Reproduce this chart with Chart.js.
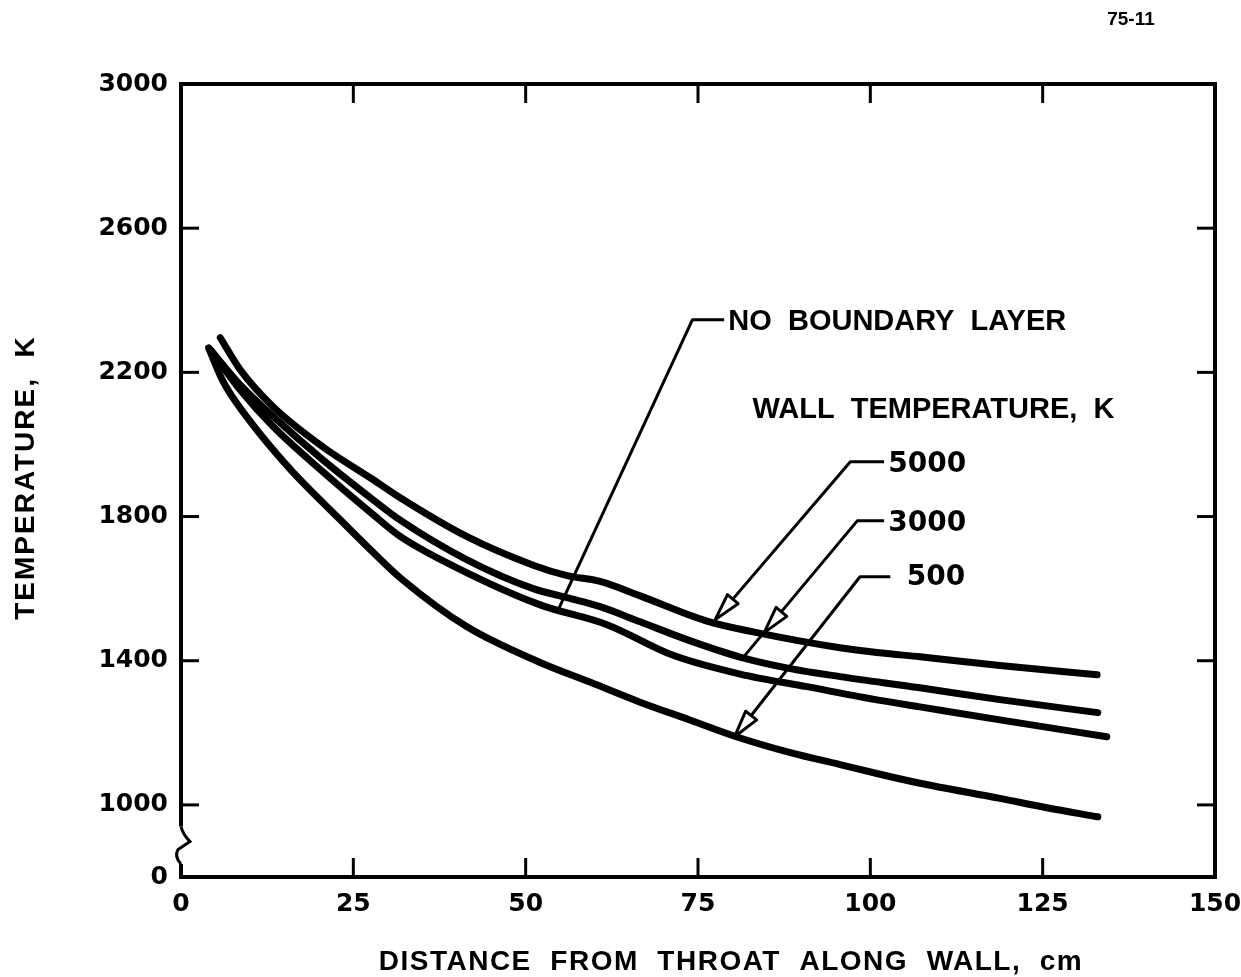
<!DOCTYPE html>
<html>
<head>
<meta charset="utf-8">
<script src="https://cdn.jsdelivr.net/npm/chart.js@4.4.1/dist/chart.umd.min.js"></script>
<style>
  html, body { margin: 0; padding: 0; background: #fff; }
  #wrap { width: 1241px; height: 977px; position: relative; }
</style>
</head>
<body>
<div id="wrap"><canvas id="chart"></canvas></div>
<script>
// ── Values (distance cm, temperature K) ──────────────────────────────
const xTicks = [0, 25, 50, 75, 100, 125, 150];
// 800 sits on the broken axis and is printed as "0"
const yTicks = [800, 1000, 1400, 1800, 2200, 2600, 3000];

// wall temperature 5000 K
const wall5000X = [5.7, 8.6, 13.4, 20.6, 27.9, 31.8, 41.5, 51.1, 56.0, 60.8, 66.6, 76.3, 83.0, 95.6, 101.4, 107.2, 118.8, 132.9];
const wall5000Y = [2296, 2207, 2104, 1993, 1902, 1852, 1744, 1665, 1636, 1620, 1580, 1510, 1480, 1436, 1422, 1411, 1387, 1361];

// wall temperature 3000 K
const wall3000X = [4.3, 8.6, 13.4, 20.6, 27.9, 31.8, 41.5, 51.1, 56.0, 60.8, 66.6, 73.9, 81.1, 88.4, 95.6, 107.2, 118.8, 133.0];
const wall3000Y = [2262, 2165, 2077, 1957, 1846, 1790, 1680, 1600, 1575, 1550, 1508, 1455, 1410, 1378, 1356, 1325, 1292, 1256];

// no boundary layer
const noLayerX = [4.3, 8.6, 13.4, 20.6, 27.9, 31.8, 41.5, 52.1, 61.8, 71.4, 81.1, 90.8, 101.4, 107.2, 118.8, 134.3];
const noLayerY = [2262, 2151, 2049, 1924, 1805, 1745, 1644, 1555, 1500, 1415, 1363, 1328, 1290, 1272, 1236, 1189];

// wall temperature 500 K
const wall500X = [4.0, 6.1, 9.6, 15.9, 23.1, 27.9, 31.8, 41.5, 52.1, 59.4, 66.6, 73.9, 80.1, 88.4, 95.6, 101.4, 107.2, 118.8, 125.6, 133.0];
const wall500Y = [2268, 2175, 2075, 1930, 1791, 1700, 1630, 1494, 1395, 1340, 1285, 1235, 1192, 1145, 1112, 1085, 1060, 1018, 992, 967];

function pts(xs, ys) { return xs.map((x, i) => ({ x: x, y: ys[i] })); }

// ── Labels with leaders, placed in data units ───────────────────────
const notes = [
  { text: 'NO  BOUNDARY  LAYER', at: [79.4, 2340], leader: [[78.8, 2346], [74.2, 2346], [54.6, 1536]] },
  { text: 'WALL  TEMPERATURE,  K', at: [82.9, 2096] },
  { text: '5000', at: [102.6, 1943], digits: true, leader: [[102.0, 1952], [97.1, 1952], [77.5, 1514]], tip: [77.5, 1514] },
  { text: '3000', at: [102.6, 1780], digits: true, leader: [[102.0, 1788], [98.1, 1788], [81.5, 1408]], tip: [84.6, 1478] },
  { text: '500', at: [105.3, 1630], digits: true, leader: [[102.9, 1633], [98.5, 1633], [80.3, 1189]], tip: [80.3, 1189] },
];

const wordFont = 'bold 29px "Liberation Sans", Arial, sans-serif';
const digitFont = 'bold 28px "DejaVu Sans", sans-serif';

const figurePlugin = {
  id: 'figure',
  afterDraw(chart) {
    const ctx = chart.ctx;
    const { left: L, right: R, top: T, bottom: B } = chart.chartArea;
    const px = v => chart.scales.x.getPixelForValue(v);
    const py = v => chart.scales.y.getPixelForValue(v);
    const line = (x1, y1, x2, y2) => { ctx.beginPath(); ctx.moveTo(x1, y1); ctx.lineTo(x2, y2); ctx.stroke(); };

    ctx.save();
    ctx.strokeStyle = '#000';
    ctx.fillStyle = '#000';

    // frame, left side broken between 1000 and 0
    const a = py(940), b = py(836);
    ctx.lineWidth = 4;
    ctx.lineJoin = 'miter';
    ctx.beginPath();
    ctx.moveTo(L, a); ctx.lineTo(L, T); ctx.lineTo(R, T); ctx.lineTo(R, B); ctx.lineTo(L, B); ctx.lineTo(L, b);
    ctx.stroke();
    ctx.lineWidth = 3;
    ctx.beginPath();
    ctx.moveTo(L, a);
    ctx.quadraticCurveTo(L + 2, a + 8, L + 9, a + 15);
    ctx.lineTo(L - 3, a + 23);
    ctx.quadraticCurveTo(L - 7, a + 30, L, b);
    ctx.stroke();

    // inward tick marks on all four sides
    ctx.lineWidth = 3;
    xTicks.slice(1, -1).forEach(v => { const x = px(v); line(x, T, x, T + 19); line(x, B, x, B - 19); });
    yTicks.slice(1, -1).forEach(v => { const y = py(v); line(L, y, L + 18, y); line(R, y, R - 18, y); });

    // leaders and open arrowheads
    notes.forEach(n => {
      if (!n.leader) return;
      ctx.lineWidth = 3;
      ctx.lineJoin = 'round';
      ctx.beginPath();
      n.leader.forEach((p, i) => { i ? ctx.lineTo(px(p[0]), py(p[1])) : ctx.moveTo(px(p[0]), py(p[1])); });
      ctx.stroke();
      if (n.tip) {
        const c = n.leader[1];
        const tx = px(n.tip[0]), ty = py(n.tip[1]);
        const dx = tx - px(c[0]), dy = ty - py(c[1]), len = Math.hypot(dx, dy);
        const ux = dx / len, uy = dy / len, nx = -uy, ny = ux;
        const bx = tx - ux * 27, by = ty - uy * 27;
        ctx.beginPath();
        ctx.moveTo(tx, ty); ctx.lineTo(bx + nx * 7, by + ny * 7); ctx.lineTo(bx - nx * 7, by - ny * 7); ctx.closePath();
        ctx.fillStyle = '#fff'; ctx.fill();
        ctx.lineWidth = 3; ctx.stroke();
        ctx.fillStyle = '#000';
      }
    });

    // label texts
    ctx.textAlign = 'left';
    ctx.textBaseline = 'middle';
    notes.forEach(n => {
      ctx.font = n.digits ? digitFont : wordFont;
      ctx.fillText(n.text, px(n.at[0]), py(n.at[1]));
    });

    // axis titles
    ctx.font = 'bold 28px "Liberation Sans", Arial, sans-serif';
    ctx.textAlign = 'center';
    if ('letterSpacing' in ctx) ctx.letterSpacing = '1.5px';
    ctx.fillText('DISTANCE  FROM  THROAT  ALONG  WALL,  cm', (L + R) / 2 + 33, 962);
    if ('letterSpacing' in ctx) ctx.letterSpacing = '2px';
    ctx.save();
    ctx.translate(26, (T + B) / 2 - 3);
    ctx.rotate(-Math.PI / 2);
    ctx.fillText('TEMPERATURE,  K', 0, 0);
    ctx.restore();
    if ('letterSpacing' in ctx) ctx.letterSpacing = '0px';

    // figure number
    ctx.font = 'bold 19px "Liberation Sans", Arial, sans-serif';
    ctx.fillText('75-11', 1131, 20);
    ctx.restore();
  }
};

const tickFont = { family: '"DejaVu Sans", sans-serif', size: 25, weight: 'bold' };

new Chart(document.getElementById('chart'), {
  type: 'line',
  data: {
    datasets: [
      { label: '5000', data: pts(wall5000X, wall5000Y), borderColor: '#000' },
      { label: '3000', data: pts(wall3000X, wall3000Y), borderColor: '#000' },
      { label: 'No boundary layer', data: pts(noLayerX, noLayerY), borderColor: '#000' },
      { label: '500', data: pts(wall500X, wall500Y), borderColor: '#000' },
    ]
  },
  options: {
    responsive: true, maintainAspectRatio: false, animation: false,
    layout: { padding: { top: 84, right: 26, bottom: 0, left: 0 } },
    elements: {
      line: { borderWidth: 7, borderCapStyle: 'round', borderJoinStyle: 'round', cubicInterpolationMode: 'monotone', fill: false },
      point: { radius: 0, hoverRadius: 0 }
    },
    plugins: { legend: { display: false }, tooltip: { enabled: false } },
    scales: {
      x: {
        type: 'linear', min: 0, max: 150,
        grid: { display: false, drawTicks: false }, border: { display: false },
        afterBuildTicks: s => { s.ticks = xTicks.map(v => ({ value: v })); },
        afterFit: s => { s.height = 100; s.paddingLeft = 0; s.paddingRight = 0; },
        ticks: { color: '#000', padding: 12, maxRotation: 0, autoSkip: false, font: tickFont }
      },
      y: {
        type: 'linear', min: 800, max: 3000,
        grid: { display: false, drawTicks: false }, border: { display: false },
        afterBuildTicks: s => { s.ticks = yTicks.map(v => ({ value: v })); },
        afterFit: s => { s.width = 181; s.paddingTop = 0; s.paddingBottom = 0; },
        ticks: { color: '#000', padding: 13, autoSkip: false, font: tickFont, callback: v => v === 800 ? '0' : String(v) }
      }
    }
  },
  plugins: [figurePlugin]
});
</script>
</body>
</html>
